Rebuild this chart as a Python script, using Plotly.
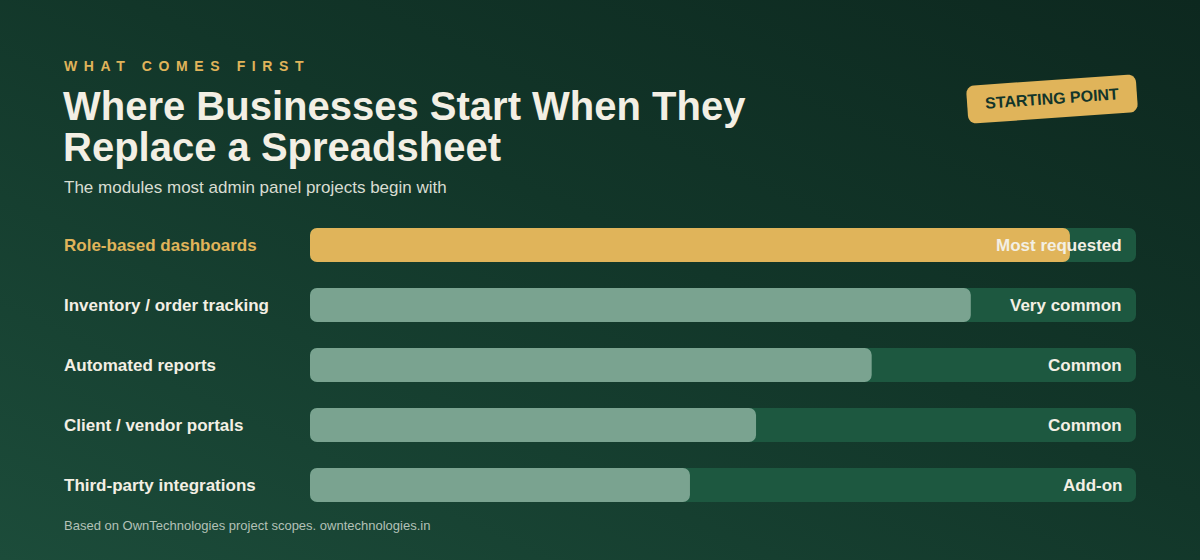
import base64
import math
import plotly.graph_objects as go

# data
modules = ["Role-based dashboards", "Inventory / order tracking", "Automated reports",
           "Client / vendor portals", "Third-party integrations"]
shares = [92, 80, 68, 54, 46]
tags = ["Most requested", "Very common", "Common", "Common", "Add-on"]
track_max = 100

GOLD = "#e0b45a"
SAGE = "#7aa390"
TRACK = "#1d5840"
CREAM = "#f3efe4"
FONT = "Liberation Sans, Arial, sans-serif"

bar_colors = [GOLD] + [SAGE] * (len(modules) - 1)
label_colors = [GOLD] + [CREAM] * (len(modules) - 1)

# background gradient as an inline svg
svg = ('<svg xmlns="http://www.w3.org/2000/svg" width="1200" height="560">'
       '<defs><linearGradient id="g" x1="0" y1="1" x2="1" y2="0">'
       '<stop offset="0" stop-color="#1c4c3a"/>'
       '<stop offset="0.55" stop-color="#123629"/>'
       '<stop offset="1" stop-color="#0d281f"/>'
       '</linearGradient></defs>'
       '<rect width="1200" height="560" fill="url(#g)"/></svg>')
bg_src = "data:image/svg+xml;base64," + base64.b64encode(svg.encode()).decode()

fig = go.Figure()

fig.add_trace(go.Bar(
    y=modules, x=[track_max] * len(modules), base=[0] * len(modules), orientation="h",
    marker=dict(color=TRACK, cornerradius=7, line=dict(width=0)),
    width=0.57, hoverinfo="skip", name="track"))
fig.add_trace(go.Bar(
    y=modules, x=shares, base=[0] * len(modules), orientation="h",
    marker=dict(color=bar_colors, cornerradius=7, line=dict(width=0)),
    width=0.57, hoverinfo="skip", name="share"))

annotations = []
for m, t, c in zip(modules, tags, label_colors):
    annotations.append(dict(x=(62 - 310) / 826, y=m, xref="paper", yref="y", text=m,
                            xanchor="left", yanchor="middle", showarrow=False,
                            font=dict(family=FONT, size=17, color=c, weight="bold")))
    annotations.append(dict(x=track_max, y=m, xref="x", yref="y", text=t, xshift=-12,
                            xanchor="right", yanchor="middle", showarrow=False,
                            font=dict(family=FONT, size=17, color=CREAM, weight="bold")))

px = lambda v: (v - 310) / 826
py = lambda v: 1 - (v - 215) / 300

annotations += [
    dict(x=px(62), y=py(66), xref="paper", yref="paper", xanchor="left", yanchor="middle",
         text='<span style="letter-spacing:6.6px">WHAT COMES FIRST</span>', showarrow=False,
         font=dict(family=FONT, size=14, color=GOLD, weight="bold")),
    dict(x=px(61), y=py(106), xref="paper", yref="paper", xanchor="left", yanchor="middle",
         text="Where Businesses Start When They", showarrow=False,
         font=dict(family=FONT, size=40, color=CREAM, weight="bold")),
    dict(x=px(61), y=py(147), xref="paper", yref="paper", xanchor="left", yanchor="middle",
         text="Replace a Spreadsheet", showarrow=False,
         font=dict(family=FONT, size=40, color=CREAM, weight="bold")),
    dict(x=px(62), y=py(188), xref="paper", yref="paper", xanchor="left", yanchor="middle",
         text="The modules most admin panel projects begin with", showarrow=False,
         font=dict(family=FONT, size=17, color="#d9ddd2")),
    dict(x=px(62), y=py(525), xref="paper", yref="paper", xanchor="left", yanchor="middle",
         text="Based on OwnTechnologies project scopes. owntechnologies.in", showarrow=False,
         font=dict(family=FONT, size=13, color="#b3c1b7")),
    dict(x=px(1052), y=py(99), xref="paper", yref="paper", xanchor="center", yanchor="middle",
         text="STARTING POINT", showarrow=False, textangle=-4,
         font=dict(family=FONT, size=16, color="#12352a", weight="bold")),
]

# rounded, tilted badge behind "STARTING POINT" (pixel path around its anchor)
bw, bh, br, tilt = 170, 38, 8, math.radians(4)
pts = []
for cx, cy, a0 in [(bw / 2 - br, bh / 2 - br, 0), (-bw / 2 + br, bh / 2 - br, 90),
                   (-bw / 2 + br, -bh / 2 + br, 180), (bw / 2 - br, -bh / 2 + br, 270)]:
    for k in range(7):
        a = math.radians(a0 + k * 15)
        x, y = cx + br * math.cos(a), cy + br * math.sin(a)
        pts.append((x * math.cos(tilt) - y * math.sin(tilt),
                    x * math.sin(tilt) + y * math.cos(tilt)))
badge_path = "M" + " L".join(f"{x:.2f},{y:.2f}" for x, y in pts) + " Z"

fig.update_layout(
    width=1200, height=560,
    margin=dict(l=310, r=64, t=215, b=45),
    barmode="overlay",
    paper_bgcolor="#123629", plot_bgcolor="rgba(0,0,0,0)",
    xaxis=dict(range=[0, track_max], visible=False, fixedrange=True),
    yaxis=dict(categoryorder="array", categoryarray=modules, autorange="reversed",
               visible=False, fixedrange=True),
    images=[dict(source=bg_src, xref="paper", yref="paper", x=px(0), y=py(0),
                 sizex=1200 / 826, sizey=560 / 300, sizing="stretch", layer="below")],
    shapes=[dict(type="path", xref="paper", yref="paper", xsizemode="pixel",
                 ysizemode="pixel", xanchor=px(1052), yanchor=py(99), path=badge_path,
                 fillcolor=GOLD, line=dict(width=0), layer="above")],
    annotations=annotations,
    showlegend=False,
)

fig.write_html("out.html", config={"displayModeBar": False},
               post_script="document.body.style.margin='0';")
